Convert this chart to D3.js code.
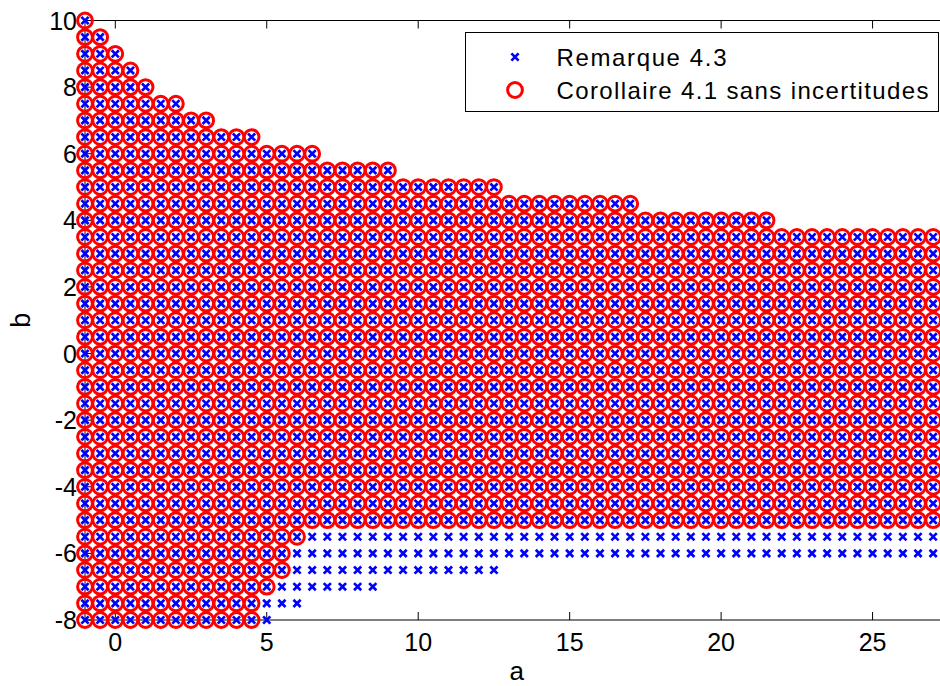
<!DOCTYPE html>
<html><head><meta charset="utf-8">
<script src="https://cdn.jsdelivr.net/npm/d3@7"></script>
<style>
body{margin:0;background:#fff;}
svg{display:block;}
text{font-family:"Liberation Sans",Arial,sans-serif;fill:#000;}
</style>
</head><body><svg id="chart" width="940" height="686"></svg>
<script>
// grid columns (a) and the b-extent of each series for that column
const aValues = [-1,-0.5,0,0.5,1,1.5,2,2.5,3,3.5,4,4.5,5,5.5,6,6.5,7,7.5,8,8.5,9,9.5,10,10.5,11,11.5,12,12.5,
  13,13.5,14,14.5,15,15.5,16,16.5,17,17.5,18,18.5,19,19.5,20,20.5,21,21.5,
  22,22.5,23,23.5,24,24.5,25,25.5,26,26.5,27];
const topB = [10,9.5,9,8.5,8,7.5,7.5,7,7,6.5,6.5,6.5,6,6,6,6,5.5,5.5,5.5,5.5,5.5,5,5,5,5,5,5,5,
  4.5,4.5,4.5,4.5,4.5,4.5,4.5,4.5,4.5,4,4,4,4,4,4,4,4,4,
  3.5,3.5,3.5,3.5,3.5,3.5,3.5,3.5,3.5,3.5,3.5];
const blueMinB = [-8,-8,-8,-8,-8,-8,-8,-8,-8,-8,-8,-8,-8,-7.5,-7.5,-7,-7,-7,-7,-7,
  -6.5,-6.5,-6.5,-6.5,-6.5,-6.5,-6.5,-6.5,
  -6,-6,-6,-6,-6,-6,-6,-6,-6,-6,-6,-6,-6,-6,-6,-6,-6,-6,-6,-6,-6,-6,-6,-6,-6,-6,-6,-6,-6];
const redMinB = [-8,-8,-8,-8,-8,-8,-8,-8,-8,-8,-8,-8,-7,-6.5,-5.5,
  -5,-5,-5,-5,-5,-5,-5,-5,-5,-5,-5,-5,-5,-5,-5,-5,-5,-5,-5,-5,-5,-5,-5,-5,-5,-5,-5,
  -5,-5,-5,-5,-5,-5,-5,-5,-5,-5,-5,-5,-5,-5,-5];
const xTicks = [0,5,10,15,20,25];
const yTicks = [-8,-6,-4,-2,0,2,4,6,8,10];
const seriesNames = ["Remarque 4.3","Corollaire 4.1 sans incertitudes"];
const xLabel = "a", yLabel = "b";

function gridPoints(minArr){
  const pts = [];
  aValues.forEach((a,i)=>{
    for(let k=Math.round(minArr[i]*2); k<=Math.round(topB[i]*2); k++) pts.push({a:a,b:k/2});
  });
  return pts;
}
const bluePts = gridPoints(blueMinB);
const redPts = gridPoints(redMinB);

const svg = d3.select("#chart");
const L=85, R=948.3, T=20.5, B=620;
const x = d3.scaleLinear().domain([-1,27.5]).range([L,R]);
const y = d3.scaleLinear().domain([-8,10]).range([B,T]);

// axes (drawn below data)
const ax = svg.append("g");
ax.append("line").attr("x1",L).attr("x2",940).attr("y1",T).attr("y2",T).attr("stroke","#000");
ax.append("line").attr("x1",L).attr("x2",940).attr("y1",B).attr("y2",B).attr("stroke","#000");
ax.append("line").attr("x1",L).attr("x2",L).attr("y1",T).attr("y2",B).attr("stroke","#000");
xTicks.forEach(t=>{
  ax.append("line").attr("x1",x(t)).attr("x2",x(t)).attr("y1",B).attr("y2",B-8).attr("stroke","#000");
  ax.append("line").attr("x1",x(t)).attr("x2",x(t)).attr("y1",T).attr("y2",T+8).attr("stroke","#000");
  ax.append("text").attr("x",x(t)).attr("y",B+30.5).attr("text-anchor","middle").attr("font-size",25).text(t);
});
yTicks.forEach(t=>{
  ax.append("line").attr("x1",L).attr("x2",L+8).attr("y1",y(t)).attr("y2",y(t)).attr("stroke","#000");
  ax.append("text").attr("x",L-8).attr("y",y(t)).attr("dy","0.36em").attr("text-anchor","end").attr("font-size",25).text(t);
});
svg.append("text").attr("x",(L+R)/2).attr("y",680).attr("text-anchor","middle").attr("font-size",26).text(xLabel);
svg.append("text").attr("transform",`translate(30,${(T+B)/2}) rotate(-90)`).attr("text-anchor","middle").attr("font-size",27).text(yLabel);

const crossPath = "M-3.6,-3.6L3.6,3.6M-3.6,3.6L3.6,-3.6";
svg.append("g").selectAll("path").data(bluePts).join("path")
  .attr("transform",d=>`translate(${x(d.a)},${y(d.b)})`)
  .attr("d",crossPath).attr("stroke","#0000ff").attr("stroke-width",2.7).attr("fill","none");
svg.append("g").selectAll("circle").data(redPts).join("circle")
  .attr("cx",d=>x(d.a)).attr("cy",d=>y(d.b)).attr("r",7.4)
  .attr("stroke","#ff0000").attr("stroke-width",3).attr("fill","none");

// legend
const lg = svg.append("g");
lg.append("rect").attr("x",465.5).attr("y",32.5).attr("width",473).attr("height",79)
  .attr("fill","#fff").attr("stroke","#000");
lg.append("path").attr("transform","translate(515,57)").attr("d",crossPath)
  .attr("stroke","#0000ff").attr("stroke-width",2.7).attr("fill","none");
lg.append("circle").attr("cx",515).attr("cy",90).attr("r",7.4).attr("stroke","#ff0000").attr("stroke-width",3).attr("fill","none");
lg.append("text").attr("x",556.5).attr("y",57).attr("dy","0.36em").attr("font-size",24)
  .attr("textLength",170).attr("lengthAdjust","spacing").text(seriesNames[0]);
lg.append("text").attr("x",556.5).attr("y",90).attr("dy","0.36em").attr("font-size",24)
  .attr("textLength",372).attr("lengthAdjust","spacing").text(seriesNames[1]);
</script></body></html>
